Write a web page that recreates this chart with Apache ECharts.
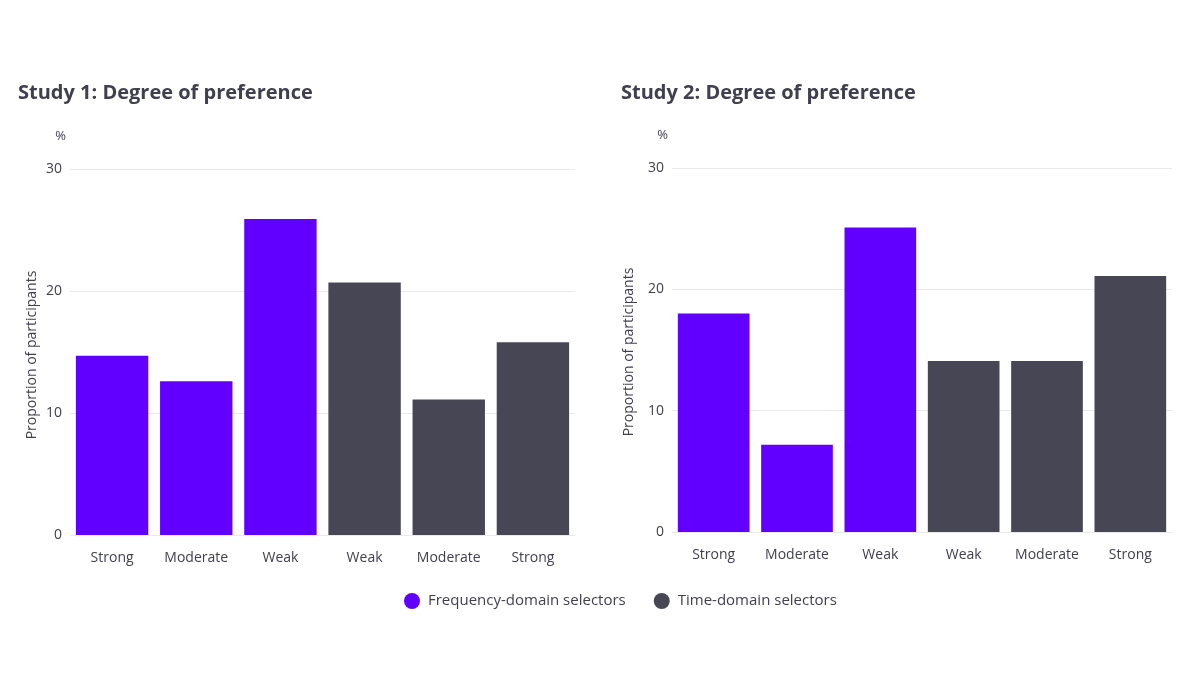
<!DOCTYPE html>
<html>
<head>
<meta charset="utf-8">
<script src="https://cdn.jsdelivr.net/npm/echarts@6/dist/echarts.min.js"></script>
<style>html,body{margin:0;padding:0;background:#fff}#c{width:1200px;height:675px}</style>
</head>
<body>
<div id="c"></div>
<script>
const categories = ['Strong', 'Moderate', 'Weak', 'Weak ', 'Moderate ', 'Strong '];
const study1Freq = [14.7, 12.6, 25.9, null, null, null];
const study1Time = [null, null, null, 20.7, 11.1, 15.8];
const study2Freq = [18.0, 7.2, 25.1, null, null, null];
const study2Time = [null, null, null, 14.1, 14.1, 21.1];
const yTicks = [0, 10, 20, 30];
const seriesNames = ['Frequency-domain selectors', 'Time-domain selectors'];
const titles = ['Study 1: Degree of preference', 'Study 2: Degree of preference'];

const FONT = '"Open Sans", "Noto Sans", sans-serif';
const PURPLE = '#6100ff';
const DARK = '#464655';
const TEXT = '#3f3f4d';

const chart = echarts.init(document.getElementById('c'), null, {renderer: 'canvas'});

function xAxis(i) {
  return {
    type: 'category', gridIndex: i, data: categories,
    axisLine: {show: false}, axisTick: {show: false},
    axisLabel: {color: TEXT, fontSize: 14, fontFamily: FONT, margin: 16,
      formatter: v => v.trim()}
  };
}
function yAxis(i) {
  return {
    type: 'value', gridIndex: i, min: yTicks[0], max: yTicks[yTicks.length - 1], interval: 10,
    name: '%', nameLocation: 'end', nameGap: 26,
    nameTextStyle: {color: TEXT, fontSize: 13, fontFamily: FONT, align: 'right', padding: [0, 4, 0, 0]},
    axisLine: {show: false}, axisTick: {show: false},
    axisLabel: {color: TEXT, fontSize: 14, fontFamily: FONT, margin: 8, padding: [4, 0, 0, 0]},
    splitLine: {lineStyle: {color: '#e9e9ef', width: 1}}
  };
}
function bar(name, data, color, i) {
  return {
    type: 'bar', name, data, xAxisIndex: i, yAxisIndex: i, stack: 's' + i,
    barCategoryGap: '14%', itemStyle: {color}, emphasis: {disabled: true}
  };
}

chart.setOption({
  animation: false,
  textStyle: {fontFamily: FONT},
  title: [
    {text: titles[0], left: 13, top: 78, textStyle: {color: TEXT, fontSize: 20, fontWeight: 'bold', fontFamily: FONT}},
    {text: titles[1], left: 616, top: 78, textStyle: {color: TEXT, fontSize: 20, fontWeight: 'bold', fontFamily: FONT}}
  ],
  legend: {
    data: seriesNames, bottom: 61, left: 399, icon: 'circle',
    itemWidth: 16, itemHeight: 16, itemGap: 28,
    textStyle: {color: TEXT, fontSize: 15, fontFamily: FONT, padding: [0, 0, 0, 3]}
  },
  grid: [
    {left: 70, right: 625, top: 169, bottom: 140},
    {left: 672, right: 28, top: 168, bottom: 143}
  ],
  xAxis: [xAxis(0), xAxis(1)],
  yAxis: [yAxis(0), yAxis(1)],
  graphic: [
    {type: 'text', x: 32, y: 355, rotation: Math.PI / 2,
      style: {text: 'Proportion of participants', fill: TEXT, font: '14px ' + FONT, align: 'center', verticalAlign: 'middle'}},
    {type: 'text', x: 629, y: 352, rotation: Math.PI / 2,
      style: {text: 'Proportion of participants', fill: TEXT, font: '14px ' + FONT, align: 'center', verticalAlign: 'middle'}}
  ],
  series: [
    bar(seriesNames[0], study1Freq, PURPLE, 0),
    bar(seriesNames[1], study1Time, DARK, 0),
    bar(seriesNames[0], study2Freq, PURPLE, 1),
    bar(seriesNames[1], study2Time, DARK, 1)
  ]
});
</script>
</body>
</html>
